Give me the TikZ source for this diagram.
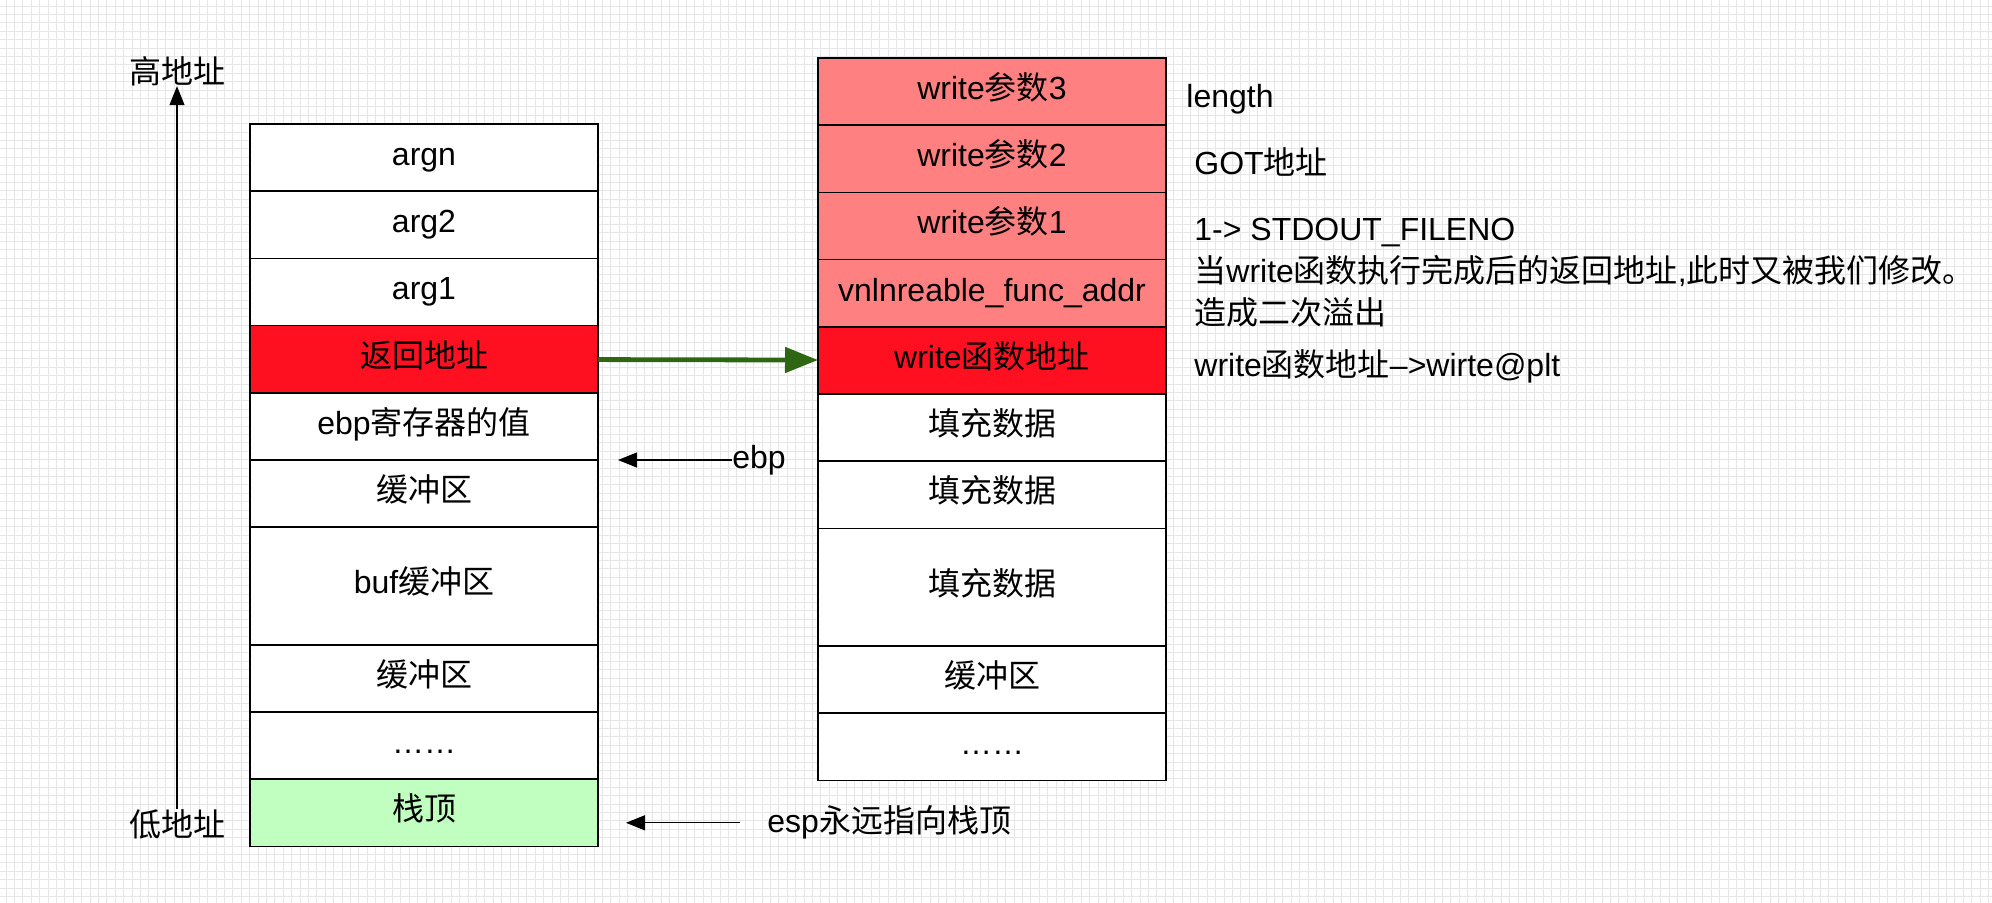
\documentclass[tikz,border=0pt]{standalone}
\usepackage{fontspec}
\setmainfont{Liberation Sans}
\newfontfamily\cjk{Noto Sans CJK SC}
\newcommand\zh[1]{{\cjk #1}}
\usepackage{tikz}
\usetikzlibrary{arrows.meta,chains,positioning}

\definecolor{argred}{HTML}{FF8080}
\definecolor{retred}{HTML}{FF1020}
\definecolor{topgreen}{HTML}{C0FFC0}
\definecolor{jmpgreen}{HTML}{2F6613}
\definecolor{gridgray}{HTML}{E6E6E6}

\begin{document}
\begin{tikzpicture}[x=0.5pt, y=-0.5pt,
node distance=0pt,
    S/.style = {rectangle, draw, line width=0.85pt, fill=white,% one slot of the stack
                minimum width=174pt, minimum height=33.6pt,
                text height=0.95em, text depth=0.17em,
                outer sep=0pt, on chain},
    T/.style = {S, minimum height=58.8pt},% the tall slot
    N/.style = {inner sep=0pt},% free text
    P/.style = {-{Triangle[length=9.5pt,width=7.5pt]}, line width=0.6pt},
    G/.style = {-{Triangle[length=16.5pt,width=12.5pt]}, line width=2.4pt, jmpgreen},
    font=\fontsize{16}{21}\selectfont
                        ]
\useasboundingbox (0,0) rectangle (1992,902);
\fill[white] (0,0) rectangle (1992,902);
\begin{scope}
\clip (0,0) rectangle (1992,902);
\draw[gridgray, line width=0.5pt, step=4.2pt, shift={(6,6)}] (-20,920) grid (2000,-20);
\end{scope}
% stack before the overflow
\begin{scope}[start chain = L going below]
\node[S, at={(424,157.6)}] {argn};
\foreach \i in {arg2,arg1}
    \node[S] {\i};
\node[S, fill=retred] {\zh{返回地址}};
\foreach \i in {ebp\zh{寄存器的值},\zh{缓冲区}}
    \node[S] {\i};
\node[T] {buf\zh{缓冲区}};
\foreach \i in {\zh{缓冲区},……}
    \node[S] {\i};
\node[S, fill=topgreen] {\zh{栈顶}};
\end{scope}
% stack after the overflow
\begin{scope}[start chain = R going below]
\node[S, fill=argred, at={(992,91.6)}] {write\zh{参数}3};
\foreach \i in {2,1}
    \node[S, fill=argred] {write\zh{参数}\i};
\node[S, fill=argred] {vnlnreable\_func\_addr};
\node[S, fill=retred] {write\zh{函数地址}};
\foreach \i in {1,2}
    \node[S] {\zh{填充数据}};
\node[T] {\zh{填充数据}};
\foreach \i in {\zh{缓冲区},……}
    \node[S] {\i};
\end{scope}
\node[N] (hi) at (177,71) {\zh{高地址}};
\node[N] (lo) at (177,824) {\zh{低地址}};
\draw[P] (lo) -- (hi);
\draw[G] (L-4) -- (R-5);
\node[N, right=67pt of L-5.south east] (ebp) {ebp};
\coordinate[right=10pt of L-5.south east] (ebp-at);
\draw[P] (ebp) -- (ebp-at);
\node[N, right=84.5pt of L-10, yshift=-5pt] (esp) {esp\zh{永远指向栈顶}};
\coordinate[right=14pt of L-10, yshift=-5pt] (esp-at);
\draw[P, shorten <=13.5pt] (esp) -- (esp-at);
% notes on the right
\node[N, right=10pt of R-1, yshift=-3.7pt] (len) {length};
\node[N, right=14pt of R-2, yshift=-1.5pt] (got) {GOT\zh{地址}};
\node[N, align=left, right=14pt of R-3.south east, yshift=-6.5pt] (fd) {1-> STDOUT\_FILENO\\
    \zh{当}write\zh{函数执行完成后的返回地址},\zh{此时又被我们修改。}\\
    \zh{造成二次溢出}};
\node[N, right=14pt of R-5, yshift=-3pt] (plt) {write\zh{函数地址}-->wirte@plt};
\end{tikzpicture}
\end{document}
